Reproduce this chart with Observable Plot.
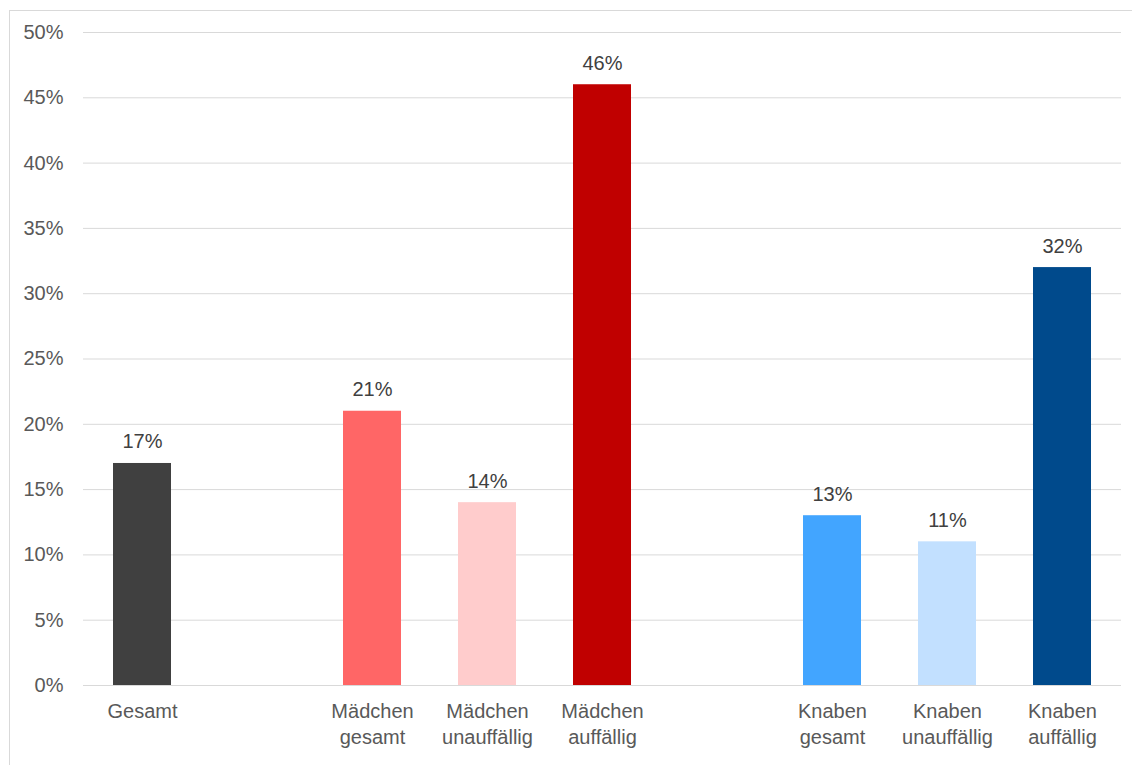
<!DOCTYPE html>
<html>
<head>
<meta charset="utf-8">
<script src="https://cdn.jsdelivr.net/npm/d3@7"></script>
<script src="https://cdn.jsdelivr.net/npm/@observablehq/plot@0.6"></script>
<style>
  html, body { margin: 0; padding: 0; background: #fff; overflow: hidden; }
  #frame { position: absolute; left: 9px; top: 10px; width: 1130px; height: 800px; border: 1px solid #d9d9d9; }
</style>
</head>
<body>
<div id="frame"></div>
<script>
const slots = ["Gesamt", "_gap1", "Mädchen gesamt", "Mädchen unauffällig", "Mädchen auffällig", "_gap2", "Knaben gesamt", "Knaben unauffällig", "Knaben auffällig"];
const slotLabels = ["Gesamt", "", "Mädchen\ngesamt", "Mädchen\nunauffällig", "Mädchen\nauffällig", "", "Knaben\ngesamt", "Knaben\nunauffällig", "Knaben\nauffällig"];
const categories = ["Gesamt", "Mädchen gesamt", "Mädchen unauffällig", "Mädchen auffällig", "Knaben gesamt", "Knaben unauffällig", "Knaben auffällig"];
const values = [17, 21, 14, 46, 13, 11, 32];
const colors = ["#404040", "#FF6666", "#FFCCCC", "#C00000", "#42A5FF", "#C2E0FF", "#004A8C"];
const yTicks = [0, 5, 10, 15, 20, 25, 30, 35, 40, 45, 50];

const data = categories.map((c, i) => ({cat: c, value: values[i], color: colors[i]}));
const labelOf = new Map(slots.map((s, i) => [s, slotLabels[i]]));
const FS = 20;

const chart = Plot.plot({
  width: 1122,
  height: 754,
  marginLeft: 73,
  marginRight: 11,
  marginTop: 21,
  marginBottom: 80,
  style: {fontFamily: "Arial, 'Liberation Sans', sans-serif", fontSize: FS + "px", color: "#595959", background: "transparent"},
  x: {domain: slots, paddingInner: 0.5, paddingOuter: 0.25, label: null},
  y: {domain: [0, 50], label: null},
  marks: [
    Plot.gridY(yTicks, {stroke: "#d9d9d9", strokeOpacity: 1, strokeWidth: 1}),
    Plot.barY(data, {x: "cat", y: "value", fill: "color"}),
    Plot.ruleY([0], {stroke: "#d9d9d9", strokeWidth: 1}),
    Plot.text(data, {x: "cat", y: "value", text: d => d.value + "%", dy: -15, lineAnchor: "bottom", fill: "#404040", fontSize: FS}),
    Plot.axisY({ticks: yTicks, tickFormat: d => d + "%", tickSize: 0, tickPadding: 20, fontSize: FS, fill: "#595959", label: null}),
    Plot.axisX({tickFormat: d => labelOf.get(d), tickSize: 0, tickPadding: 14, fontSize: FS, fill: "#595959", lineHeight: 1.3, label: null})
  ]
});
document.getElementById("frame").appendChild(chart);
</script>
</body>
</html>
